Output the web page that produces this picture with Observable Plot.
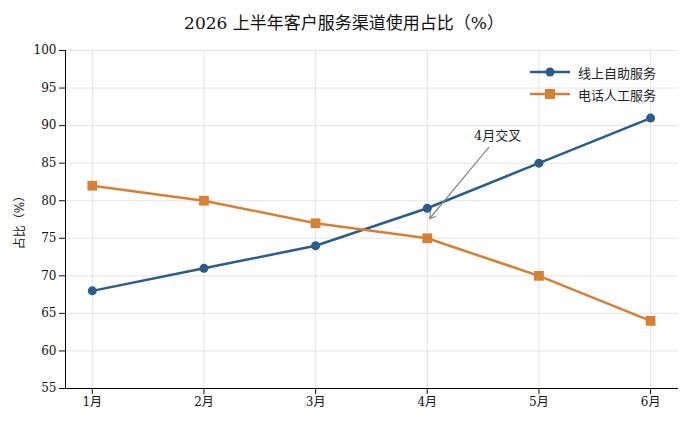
<!DOCTYPE html>
<html><head><meta charset="utf-8">
<script src="https://cdn.jsdelivr.net/npm/d3@7"></script>
<script src="https://cdn.jsdelivr.net/npm/@observablehq/plot@0.6"></script>
<style>
body{margin:0;background:#fff;font-family:"DejaVu Serif","Noto Sans CJK SC",serif;}
#wrap{position:relative;width:688px;}
#title{height:40px;line-height:46px;text-align:center;font-size:17px;color:#111;}
#legend{position:absolute;left:530px;top:61px;font-size:13px;color:#222;}
.li{display:flex;align-items:center;height:22px;}
.li svg{margin-right:8px;}
</style></head><body>
<div id="wrap">
<div id="title">2026 上半年客户服务渠道使用占比（%）</div>
<div id="chart"></div>
<div id="legend">
<div class="li"><svg width="40" height="12"><line x1="0" y1="6" x2="40" y2="6" stroke="#2b5d8c" stroke-width="2.5"/><circle cx="20" cy="6" r="4.5" fill="#2b5d8c"/></svg>线上自助服务</div>
<div class="li"><svg width="40" height="12"><line x1="0" y1="6" x2="40" y2="6" stroke="#d97f30" stroke-width="2.5"/><rect x="15" y="1" width="10" height="10" fill="#d97f30"/></svg>电话人工服务</div>
</div>
</div>
<script>
const months=[1,2,3,4,5,6];
const online=[68,71,74,79,85,91];
const phone=[82,80,77,75,70,64];
const yTicks=[55,60,65,70,75,80,85,90,95,100];
const annot=[{x:4.63,y:88.6,x1:4.55,y1:87.1,x2:4.02,y2:77.6,label:"4月交叉"}];
const d1=months.map((m,i)=>({m,v:online[i]}));
const d2=months.map((m,i)=>({m,v:phone[i]}));
const p=Plot.plot({
 width:688,height:385,marginLeft:65,marginRight:10,marginTop:10,marginBottom:37,
 style:{fontFamily:'"DejaVu Serif","Noto Sans CJK SC",serif',fontSize:"12px",color:"#111"},
 x:{domain:[0.76,6.25],label:null},
 y:{domain:[55,100],label:null},
 marks:[
  Plot.gridX(months,{stroke:"#ccc",strokeOpacity:0.5}),
  Plot.gridY(yTicks,{stroke:"#ccc",strokeOpacity:0.5}),
  Plot.axisX({ticks:months,tickFormat:d=>d+"月",label:null}),
  Plot.axisY({ticks:yTicks,label:"占比（%）",labelAnchor:"center",labelArrow:"none",labelOffset:50}),
  Plot.ruleY([55],{stroke:"#000"}),
  Plot.ruleX([0.76],{stroke:"#000"}),
  Plot.line(d1,{x:"m",y:"v",stroke:"#2b5d8c",strokeWidth:2.5}),
  Plot.dot(d1,{x:"m",y:"v",fill:"#2b5d8c",r:4.5}),
  Plot.line(d2,{x:"m",y:"v",stroke:"#d97f30",strokeWidth:2.5}),
  Plot.dot(d2,{x:"m",y:"v",fill:"#d97f30",symbol:"square",r:5.5}),
  Plot.arrow(annot,{x1:"x1",y1:"y1",x2:"x2",y2:"y2",stroke:"#888",strokeWidth:1.2,headLength:8}),
  Plot.text(annot,{x:"x",y:"y",text:"label",fontSize:13,fill:"#222"})
 ]
});
document.getElementById("chart").appendChild(p);
</script></body></html>
